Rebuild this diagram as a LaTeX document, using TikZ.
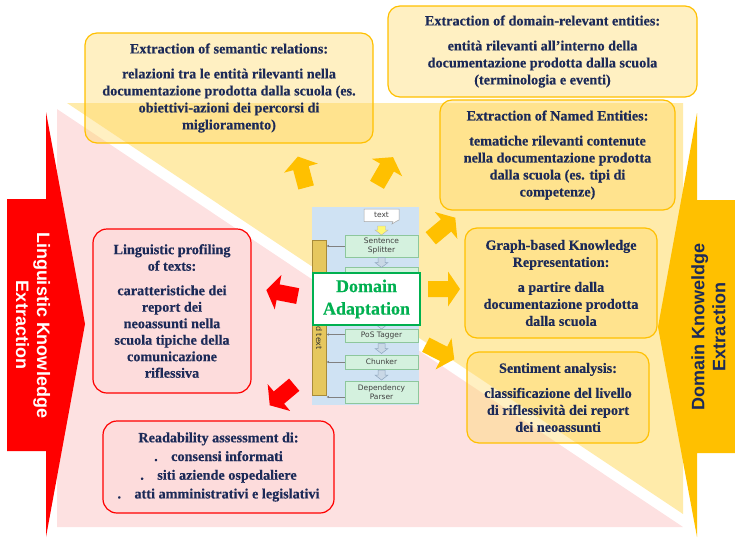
\documentclass[tikz,border=0pt]{standalone}
\usepackage{fontspec}
\setmainfont{Liberation Serif}
\newfontfamily\serifbold{Liberation Serif Bold}[FakeBold=0.4]
\newfontfamily\arialbold{Liberation Sans Bold}
\newfontfamily\dejavufont{DejaVu Sans}
\usetikzlibrary{arrows.meta}
\definecolor{pinkbg}{HTML}{FDE1E1}
\definecolor{yellowbg}{HTML}{FFEBAA}
\definecolor{gold}{HTML}{FFC000}
\definecolor{boxgold}{HTML}{FFD966}
\definecolor{navy}{HTML}{1C2A58}
\definecolor{redc}{HTML}{FF0000}
\definecolor{redfill}{HTML}{FDDCDC}
\definecolor{lblue}{HTML}{CFE2F3}
\definecolor{gfill}{HTML}{D4F1DE}
\definecolor{gline}{HTML}{8DC79C}
\definecolor{dagreen}{HTML}{00B050}
\definecolor{barfill}{HTML}{E6C75E}
\definecolor{barline}{HTML}{A88B3A}
\definecolor{sarrow}{HTML}{C9D8E6}
\definecolor{sarrowline}{HTML}{8EA6BE}
\tikzset{
  ybox/.style={draw=gold, line width=1.2pt, rounded corners=12pt, fill=boxgold, fill opacity=0.4, text opacity=1,
    text=navy, inner sep=0pt, align=center, font=\serifbold\fontsize{14.2}{17}\selectfont},
  rbox/.style={draw=redc, line width=1.2pt, rounded corners=14pt, fill=redfill, text=navy, inner sep=0pt, align=center,
    font=\serifbold\fontsize{14.2}{16.5}\selectfont},
  gbox/.style={draw=gline, fill=gfill, inner sep=0pt, align=center, text=black!75, font=\dejavufont\fontsize{7.5}{8.8}\selectfont},
  bigtext/.style={align=center, font=\arialbold\fontsize{18}{21}\selectfont},
  blockarrow/.pic={\fill (-16,-8) -- (4,-8) -- (4,-17.5) -- (16,0) -- (4,17.5) -- (4,8) -- (-16,8) -- cycle;},
  smallarrow/.pic={\draw[sarrowline, fill=sarrow, line width=0.5pt] (-3.5,0) -- (3.5,0) -- (3.5,5) -- (6.5,5) -- (0,10) -- (-6.5,5) -- (-3.5,5) -- cycle;},
  link/.style={draw=gray, line width=0.6pt, -{Latex[length=2.5pt,width=2.5pt]}}
}
\begin{document}
\begin{tikzpicture}[x=1pt,y=-1pt]
\useasboundingbox (0,0) rectangle (735,538);
% background triangles
\fill[pinkbg] (57,109) -- (57,527) -- (683,527) -- cycle;
\fill[yellowbg] (67,103) -- (683,103) -- (683,514) -- cycle;
% big arrows
\fill[redc] (7,199) -- (46,199) -- (46,112) -- (85,324) -- (46,537) -- (46,451) -- (7,451) -- cycle;
\node[bigtext, text=white, rotate=-90] (lke) at (33,325) {Linguistic Knowledge\\Extraction};
\fill[gold] (735,200) -- (697,200) -- (697,113) -- (658,327) -- (697,537) -- (697,453) -- (735,453) -- cycle;
\node[bigtext, text=navy, rotate=90] (dke) at (708.5,327) {Domain Knoweldge\\Extraction};
% yellow boxes
\node[ybox, minimum width=288, minimum height=110] (sem) at (229,88)
 {Extraction of semantic relations:\\[8pt]relazioni tra le entità rilevanti nella\\documentazione prodotta dalla scuola (es.\\obiettivi-azioni dei percorsi di\\miglioramento)};
\node[ybox, minimum width=309, minimum height=91] (dom) at (542.5,51.5)
 {Extraction of domain-relevant entities:\\[8pt]entità rilevanti all’interno della\\documentazione prodotta dalla scuola\\(terminologia e eventi)};
\node[ybox, minimum width=235, minimum height=110] (ner) at (557.5,155)
 {Extraction of Named Entities:\\[8pt]tematiche rilevanti contenute\\nella documentazione prodotta\\dalla scuola (es. tipi di\\competenze)};
\node[ybox, minimum width=192, minimum height=110] (graph) at (561,283)
 {Graph-based Knowledge\\Representation:\\[8pt]a partire dalla\\documentazione prodotta\\dalla scuola};
\node[ybox, minimum width=182, minimum height=91] (sent) at (558,397.5)
 {Sentiment analysis:\\[8pt]classificazione del livello\\di riflessività dei report\\dei neoassunti};
% red boxes
\node[rbox, minimum width=158, minimum height=164] (prof) at (172,311)
 {Linguistic profiling\\of texts:\\[8pt]caratteristiche dei\\report dei\\neoassunti nella\\scuola tipiche della\\comunicazione\\riflessiva};
\node[rbox, minimum width=231, minimum height=92, font=\serifbold\fontsize{14.2}{18.7}\selectfont] (read) at (218.5,467)
 {Readability assessment di:\\\makebox[17pt][l]{.}consensi informati\\\makebox[17pt][l]{.}siti aziende ospedaliere\\\makebox[17pt][l]{.}atti amministrativi e legislativi};
% central pipeline picture
\fill[lblue] (312,207) rectangle (419,405);
\draw[gray!70, fill=white, line width=0.5pt] (364,209) -- (399,209) -- (399,220) -- (396,221.5) -- (392,224) -- (393,221.5) -- (364,221.5) -- cycle;
\node[inner sep=0pt, font=\dejavufont\fontsize{7.5}{9}\selectfont, text=black!75] (txt) at (381.5,215) {text};
\draw[gray!60, fill=yellow!55, line width=0.4pt] (377.5,226) -- (385.5,226) -- (385.5,230) -- (388,230) -- (381.5,235) -- (375,230) -- (377.5,230) -- cycle;
\node[gbox, minimum width=73, minimum height=22] (ss) at (381.5,246) {Sentence\\Splitter};
\node[gbox, minimum width=73, minimum height=20] (tok) at (381.5,277) {};
\node[gbox, minimum width=73, minimum height=13] (pos) at (381.5,335.5) {PoS Tagger};
\node[gbox, minimum width=73, minimum height=13.5] (chk) at (381.5,362) {Chunker};
\node[gbox, minimum width=73, minimum height=22] (dep) at (381.5,392) {Dependency\\Parser};
\pic at (381.5,257.5) {smallarrow};
\pic at (381.5,319) {smallarrow};
\pic at (381.5,343.5) {smallarrow};
\pic at (381.5,370) {smallarrow};
\node[draw=barline, fill=barfill, line width=0.6pt, minimum width=13.5, minimum height=155, inner sep=0pt] (bar) at (319.25,317.5) {};
\node[rotate=-90, inner sep=0pt, font=\dejavufont\fontsize{8}{9}\selectfont, text=black!80] (annot) at (319,338) {d text};
\draw[link] (ss.west) -- (ss.west -| bar.east);
\draw[link] ([yshift=1pt]pos.west) -- ([yshift=1pt]pos.west -| bar.east);
\draw[link] (chk.west) -- (chk.west -| bar.east);
\draw[link] ([yshift=-5pt]dep.west) -- ([yshift=-5pt]dep.west -| bar.east);
\node[draw=dagreen, line width=1.3pt, fill=white, minimum width=107, minimum height=52, inner sep=0pt, align=center,
  text=dagreen, font=\serifbold\fontsize{18}{22.5}\selectfont] (da) at (366.5,299) {Domain\\Adaptation};
% block arrows
\pic[gold, rotate=105] at (302,172) {blockarrow};
\pic[gold, rotate=60] at (385,171) {blockarrow};
\pic[gold, rotate=40] at (443,228) {blockarrow};
\pic[gold, rotate=0] at (444,289) {blockarrow};
\pic[gold, rotate=-27] at (440,352) {blockarrow};
\pic[redc, rotate=169] at (282,293) {blockarrow};
\pic[redc, rotate=220] at (282,395) {blockarrow};
\end{tikzpicture}
\end{document}
